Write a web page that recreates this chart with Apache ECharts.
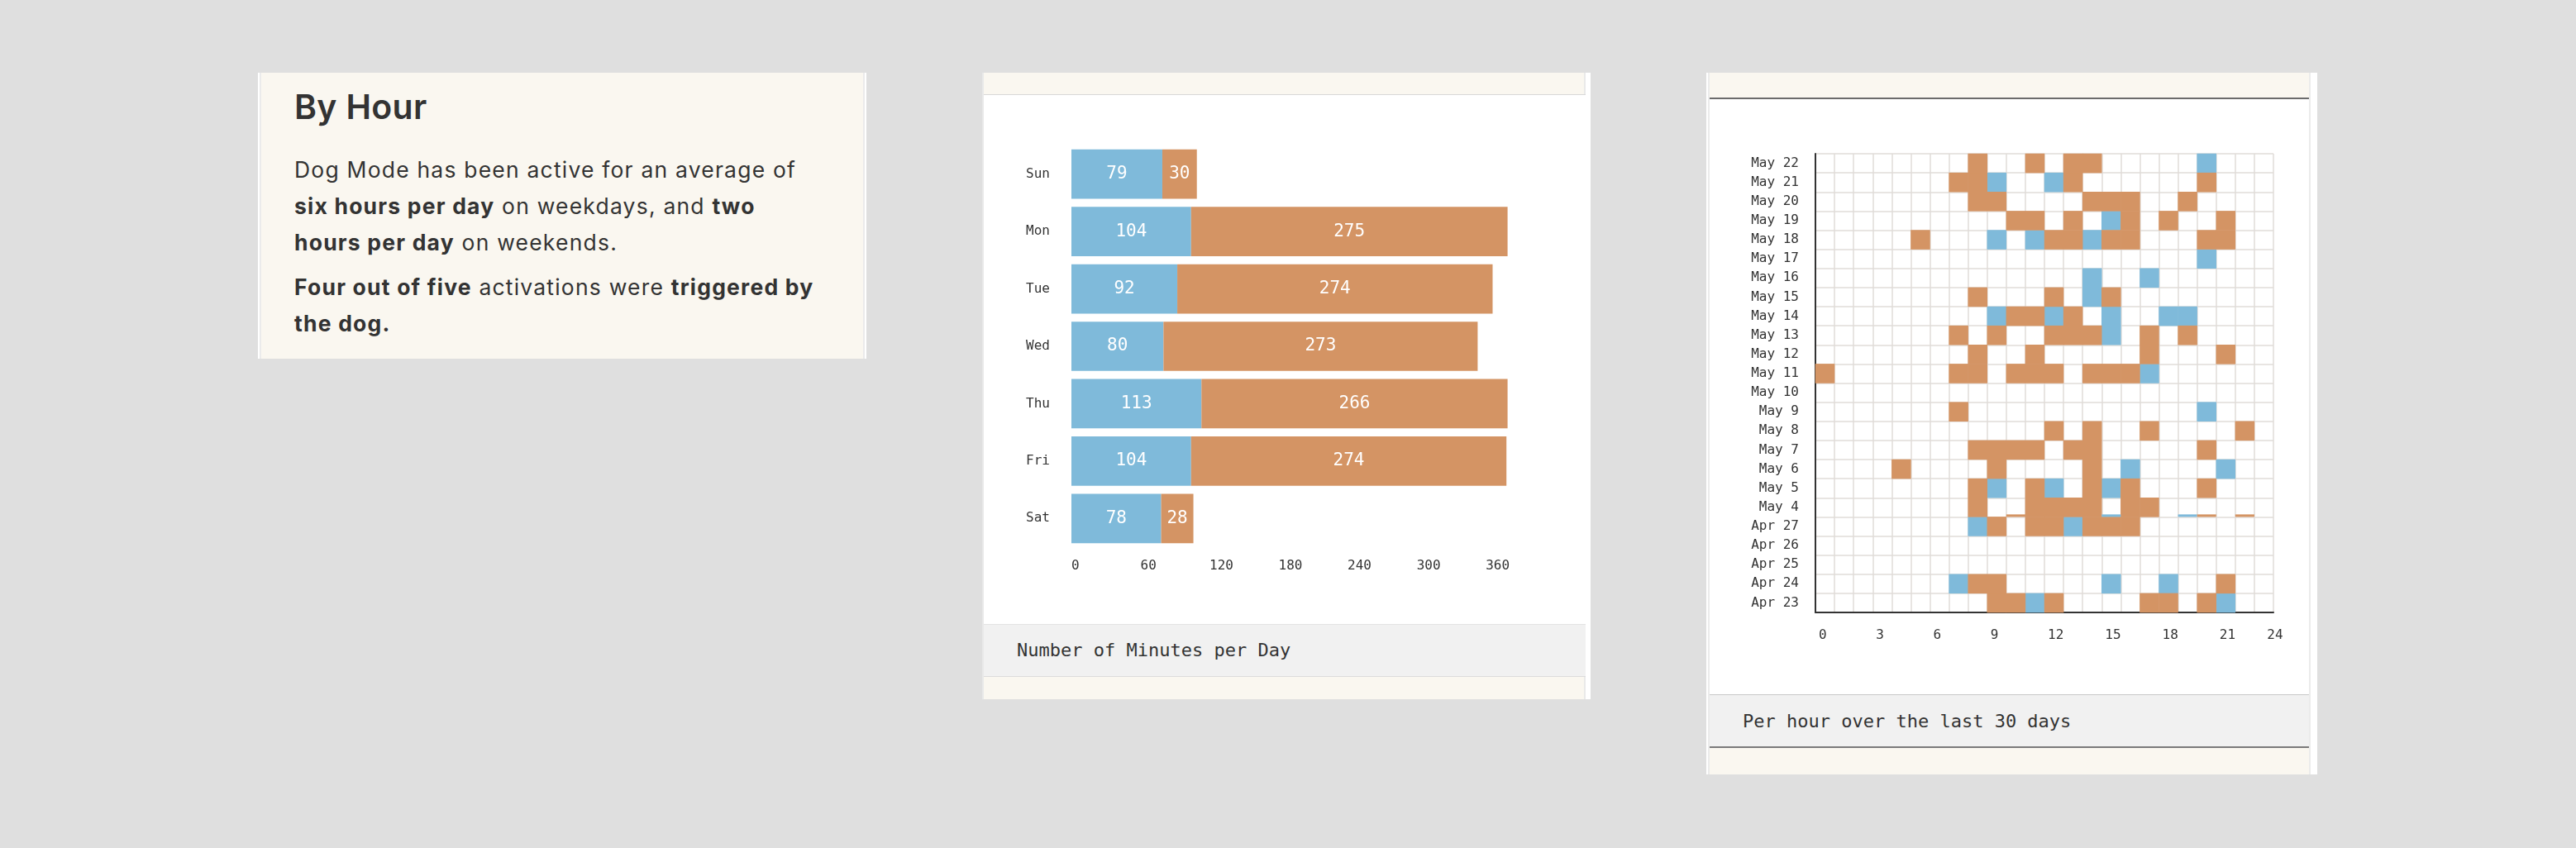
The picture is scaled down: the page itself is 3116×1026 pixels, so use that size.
<!DOCTYPE html>
<html>
<head>
<meta charset="utf-8">
<title>Dog Mode - By Hour</title>
<script src="https://cdn.jsdelivr.net/npm/echarts@6.0.0/dist/echarts.min.js"></script>
<style>
html, body { margin: 0; padding: 0; }
body {
  width: 3116px; height: 1026px; position: relative; overflow: hidden;
  background: #dfdfdf; color: #333;
  font-family: Inter, "Noto Sans", sans-serif;
}
.panel { position: absolute; box-sizing: border-box; background: #faf7f0; }
.title { position: absolute; left: 42px; top: 17px; font-size: 41px; line-height: 49px; font-weight: 600; white-space: nowrap; letter-spacing: 0.3px; }
.copy { position: absolute; left: 42px; top: 95px; font-size: 26.5px; line-height: 44px; white-space: nowrap; letter-spacing: 1.2px; }
.copy p { margin: 0 0 10px 0; }
.copy b { font-weight: 700; }
.chart { position: absolute; background: #fff; }
.caption {
  position: absolute; background: #f1f1f1; box-sizing: border-box;
  font-family: "DejaVu Sans Mono", monospace; font-size: 22px; color: #333;
  padding-left: 40px; white-space: nowrap;
}
</style>
</head>
<body>

<div class="panel" style="left:312px;top:88px;width:736px;height:346px;border-left:2px solid #fff;border-right:2px solid #fff;box-shadow:inset 2px 0 #ebebeb, inset -2px 0 #ebebeb;">
  <div class="title">By Hour</div>
  <div class="copy">
    <p>Dog Mode has been active for an average of<br><b>six hours per day</b> on weekdays, and <b>two</b><br><b>hours per day</b> on weekends.</p>
    <p><b>Four out of five</b> activations were <b>triggered by</b><br><b>the dog.</b></p>
  </div>
</div>

<div class="panel" style="left:1188px;top:88px;width:736px;height:758px;border-left:2px solid #e9e9e9;border-right:6px solid #fff;box-shadow:inset -2px 0 #e9e9e9;">
  <div style="position:absolute;left:0;top:26px;width:728px;height:1px;background:#d8d8d8;"></div>
  <div id="bars" class="chart" style="left:0;top:27px;width:728px;height:640px;"></div>
  <div class="caption" style="left:0;top:667px;width:728px;height:64px;line-height:62px;border-top:1px solid #e3e3e3;border-bottom:1px solid #dcdcdc;">Number of Minutes per Day</div>
</div>

<div class="panel" style="left:2064px;top:88px;width:739px;height:849px;border-left:2px solid #fff;border-right:8px solid #fff;box-shadow:inset 2px 0 #ebebeb, inset -2px 0 #ebebeb;">
  <div style="position:absolute;left:2px;top:30px;width:725px;height:2px;background:#6b6b6b;"></div>
  <div id="hours" class="chart" style="left:2px;top:32px;width:725px;height:720px;"></div>
  <div class="caption" style="left:2px;top:752px;width:725px;height:65px;line-height:63px;border-top:1px solid #c8c8c8;border-bottom:2px solid #7a7a7a;">Per hour over the last 30 days</div>
</div>

<script>
// minutes per weekday
const weekDays = ['Sun', 'Mon', 'Tue', 'Wed', 'Thu', 'Fri', 'Sat']
const manualMinutes = [79, 104, 92, 80, 113, 104, 78]
const dogMinutes = [30, 275, 274, 273, 266, 274, 28]
const minuteTicks = [0, 60, 120, 180, 240, 300, 360]

// per hour grid, bottom row first
const heatDays = ['Apr 23', 'Apr 24', 'Apr 25', 'Apr 26', 'Apr 27', 'May 4', 'May 5', 'May 6',
  'May 7', 'May 8', 'May 9', 'May 10', 'May 11', 'May 12', 'May 13', 'May 14', 'May 15',
  'May 16', 'May 17', 'May 18', 'May 19', 'May 20', 'May 21', 'May 22']
const hourTicks = [0, 3, 6, 9, 12, 15, 18, 21, 24]
const blueHours = [
  [11, 21], [7, 15, 18], [], [], [8, 13], [], [9, 12, 15], [16, 21],
  [], [], [20], [], [17], [], [15], [9, 12, 15, 18, 19], [14],
  [14, 17], [20], [9, 11, 14], [15], [], [9, 12], [20]
]
const orangeHours = [
  [9, 10, 12, 17, 18, 20], [8, 9, 21], [], [], [9, 11, 12, 14, 15, 16],
  [8, 11, 12, 13, 14, 16, 17], [8, 11, 14, 16, 20], [4, 9, 14],
  [8, 9, 10, 11, 13, 14, 20], [12, 14, 17, 22], [7], [],
  [0, 7, 8, 10, 11, 12, 14, 15, 16], [8, 11, 17, 21], [7, 9, 12, 13, 14, 17, 19],
  [10, 11, 13], [8, 12, 15], [], [], [5, 12, 13, 15, 16, 20, 21],
  [10, 11, 13, 16, 18, 21], [8, 9, 14, 15, 16, 19], [7, 8, 13, 20], [8, 11, 13, 14]
]
// short slivers drawn along the bottom of the May 4 row
const sliverDay = 'May 4'
const sliverOrange = [10, 20, 22]
const sliverBlue = [15, 19]

const blueColor = '#7fbada'
const orangeColor = '#d49464'
const monoFont = 'DejaVu Sans Mono'

function toCells(hoursList) {
  let cells = []
  hoursList.forEach((hours, row) => {
    hours.forEach(h => cells.push([h, row, 1]))
  })
  return cells
}

function sliver(params, api) {
  let p = api.coord([api.value(0), api.value(1)])
  let s = api.size([1, 1])
  return {
    type: 'rect',
    shape: { x: p[0] - s[0] / 2, y: p[1] + s[1] / 2 - 3, width: s[0], height: 3 },
    style: { fill: api.visual('color') }
  }
}

const barChart = echarts.init(document.getElementById('bars'))
barChart.setOption({
  animation: false,
  grid: { left: 106, top: 61, width: 529, height: 486, outerBoundsMode: 'none', containLabel: false },
  xAxis: {
    type: 'value',
    min: 0,
    max: 380,
    interval: 60,
    axisLine: { show: false },
    axisTick: { show: false },
    splitLine: { show: false },
    axisLabel: {
      showMaxLabel: false,
      align: 'left',
      margin: 15,
      fontFamily: monoFont,
      fontSize: 16,
      color: '#333',
      formatter: v => (minuteTicks.indexOf(v) >= 0 ? String(v) : '')
    }
  },
  yAxis: {
    type: 'category',
    data: weekDays,
    inverse: true,
    axisLine: { show: false },
    axisTick: { show: false },
    axisLabel: { margin: 26, fontFamily: monoFont, fontSize: 16, color: '#333' }
  },
  series: [
    {
      name: 'manual',
      type: 'bar',
      stack: 'minutes',
      data: manualMinutes,
      barCategoryGap: '14%',
      itemStyle: { color: blueColor },
      label: { show: true, position: 'inside', color: '#fff', fontFamily: monoFont, fontSize: 21 }
    },
    {
      name: 'dog',
      type: 'bar',
      stack: 'minutes',
      data: dogMinutes,
      barCategoryGap: '14%',
      itemStyle: { color: orangeColor },
      label: { show: true, position: 'inside', color: '#fff', fontFamily: monoFont, fontSize: 21 }
    }
  ]
})

const hourChart = echarts.init(document.getElementById('hours'))
hourChart.setOption({
  animation: false,
  grid: { left: 128, top: 66, width: 554, height: 555, outerBoundsMode: 'none', containLabel: false },
  xAxis: [
    {
      type: 'category',
      data: Array.from({ length: 24 }, (_, i) => i),
      axisLine: { show: false },
      axisTick: { show: false },
      axisLabel: { show: false },
      splitLine: { show: true, interval: 0, lineStyle: { color: '#e0dcd8', width: 1.5 } }
    },
    {
      type: 'value',
      min: 0,
      max: 24,
      interval: 3,
      position: 'bottom',
      axisLine: { show: true, lineStyle: { color: '#333', width: 2 } },
      axisTick: { show: false },
      splitLine: { show: false },
      axisLabel: {
        align: 'left',
        alignMaxLabel: 'center',
        margin: 20,
        padding: [0, 0, 0, 4],
        fontFamily: monoFont,
        fontSize: 16,
        color: '#333',
        formatter: v => (hourTicks.indexOf(v) >= 0 ? String(v) : '')
      }
    }
  ],
  yAxis: {
    type: 'category',
    data: heatDays,
    axisLine: { show: true, lineStyle: { color: '#333', width: 2 } },
    axisTick: { show: false },
    splitLine: { show: true, interval: 0, lineStyle: { color: '#e0dcd8', width: 1.5 } },
    axisLabel: { margin: 20, interval: 0, fontFamily: monoFont, fontSize: 16, color: '#333' }
  },
  series: [
    {
      name: 'manual',
      type: 'heatmap',
      xAxisIndex: 0,
      data: toCells(blueHours),
      itemStyle: { color: blueColor }
    },
    {
      name: 'dog',
      type: 'heatmap',
      xAxisIndex: 0,
      data: toCells(orangeHours),
      itemStyle: { color: orangeColor }
    },
    {
      name: 'manual sliver',
      type: 'custom',
      xAxisIndex: 0,
      renderItem: sliver,
      itemStyle: { color: blueColor },
      data: sliverBlue.map(h => [h, heatDays.indexOf(sliverDay)])
    },
    {
      name: 'dog sliver',
      type: 'custom',
      xAxisIndex: 0,
      renderItem: sliver,
      itemStyle: { color: orangeColor },
      data: sliverOrange.map(h => [h, heatDays.indexOf(sliverDay)])
    }
  ]
})
</script>
</body>
</html>
